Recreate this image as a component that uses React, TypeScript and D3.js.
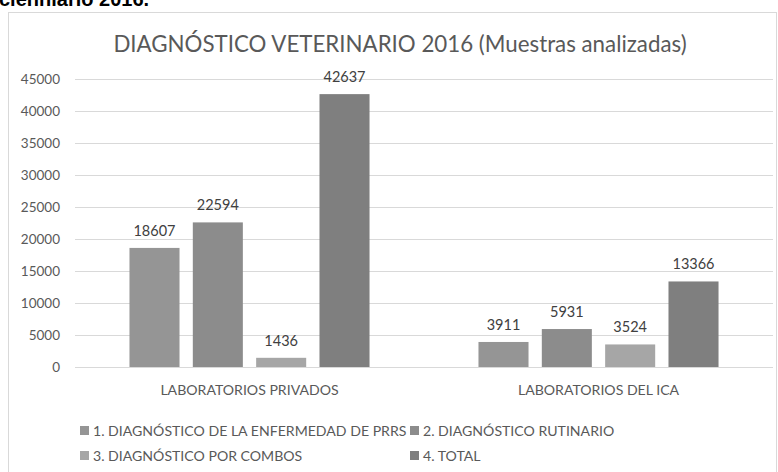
import React from "react";
import * as d3 from "d3";

const categories = ["LABORATORIOS PRIVADOS", "LABORATORIOS DEL ICA"];
const seriesNames = [
  "1. DIAGNÓSTICO DE LA ENFERMEDAD DE PRRS",
  "2. DIAGNÓSTICO RUTINARIO",
  "3. DIAGNÓSTICO POR COMBOS",
  "4. TOTAL",
];
const prrs = [18607, 3911];
const rutinario = [22594, 5931];
const combos = [1436, 3524];
const total = [42637, 13366];
const seriesColors = ["#959595", "#8c8c8c", "#a6a6a6", "#7f7f7f"];
const yTicks = [0, 5000, 10000, 15000, 20000, 25000, 30000, 35000, 40000, 45000];
const title = "DIAGNÓSTICO VETERINARIO 2016 (Muestras analizadas)";
const topText = "cienniario 2016.";

const W = 778;
const H = 472;
const FONT = "Lato, 'Open Sans', sans-serif";

export default function App() {
  const seriesValues = [prrs, rutinario, combos, total];
  const left = 75;
  const right = 773;
  const y = d3.scaleLinear().domain([0, 45000]).range([367, 79]);
  const x0 = d3.scaleBand<string>().domain(categories).range([left, right]).padding(0);
  const x1 = d3
    .scaleBand<number>()
    .domain(d3.range(seriesNames.length))
    .range([0, x0.bandwidth()])
    .paddingInner(0.21)
    .paddingOuter(0.86);

  const legendCols = [80, 410];
  const legendRows = [436, 461];

  return (
    <svg
      width={W}
      height={H}
      style={{ position: "absolute", left: 0, top: 0, background: "#fff" }}
      fontFamily={FONT}
    >
      <text x={-1} y={6} fontFamily="'Liberation Sans', Arial, sans-serif" fontWeight="bold" fontSize={20} fill="#000">
        {topText}
      </text>
      <rect x={8.5} y={12.5} width={768} height={480} fill="#fff" stroke="#d9d9d9" strokeWidth={1} />
      <text x={400} y={52} textAnchor="middle" fontSize={22.3} fill="#595959">
        {title}
      </text>
      {yTicks.map((t) => (
        <g key={t}>
          <line x1={left} x2={right} y1={Math.round(y(t)) + 0.5} y2={Math.round(y(t)) + 0.5} stroke="#d9d9d9" strokeWidth={1} />
          <text x={60} y={y(t)} dy="0.35em" textAnchor="end" fontSize={13.5} fill="#595959">
            {t}
          </text>
        </g>
      ))}
      {categories.map((c, ci) => (
        <g key={c} transform={`translate(${x0(c)},0)`}>
          {seriesValues.map((vals, si) => {
            const v = vals[ci];
            const bx = x1(si)!;
            return (
              <g key={si}>
                <rect x={bx} y={y(v)} width={x1.bandwidth()} height={y(0) - y(v)} fill={seriesColors[si]} />
                <text x={bx + x1.bandwidth() / 2} y={y(v) - 12} textAnchor="middle" fontSize={14.5} fill="#404040">
                  {v}
                </text>
              </g>
            );
          })}
          <text x={x0.bandwidth() / 2} y={395} textAnchor="middle" fontSize={14.1} fill="#595959">
            {c}
          </text>
        </g>
      ))}
      {seriesNames.map((s, i) => {
        const lx = legendCols[i % 2];
        const ly = legendRows[Math.floor(i / 2)];
        return (
          <g key={s}>
            <rect x={lx} y={ly - 10} width={9} height={9} fill={seriesColors[i]} />
            <text x={lx + 13} y={ly} fontSize={14.1} fill="#595959">
              {s}
            </text>
          </g>
        );
      })}
    </svg>
  );
}
